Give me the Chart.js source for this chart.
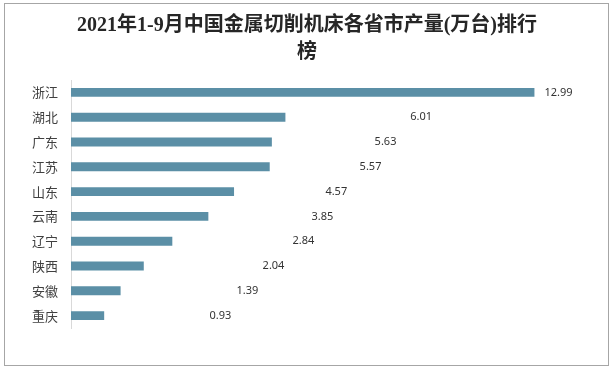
<!DOCTYPE html>
<html>
<head>
<meta charset="utf-8">
<script src="https://cdn.jsdelivr.net/npm/chart.js@4"></script>
<style>
  html, body { margin: 0; padding: 0; background: #fff; }
  #wrap { position: relative; width: 614px; height: 368px; }
  canvas { display: block; }
</style>
</head>
<body>
<div id="wrap"><canvas id="chartProvincias" width="614" height="368"></canvas></div>
<script>
/* datos */
const provincias = ["浙江", "湖北", "广东", "江苏", "山东", "云南", "辽宁", "陕西", "安徽", "重庆"];
const produccion = [12.99, 6.01, 5.63, 5.57, 4.57, 3.85, 2.84, 2.04, 1.39, 0.93];
const etiquetas = ["12.99", "6.01", "5.63", "5.57", "4.57", "3.85", "2.84", "2.04", "1.39", "0.93"];
// donde empieza cada etiqueta, en unidades del eje x
const anclaEtiqueta = [13.27, 9.51, 8.51, 8.09, 7.13, 6.74, 6.21, 5.37, 4.64, 3.88];

const canvas = document.getElementById("chartProvincias");
const context = canvas.getContext("2d");

/* borde del recuadro y etiquetas de valor */
const pluginMarco = {
  id: "marco",
  beforeDraw(chart) {
    const ctx = chart.ctx;
    ctx.save();
    ctx.fillStyle = "#ffffff";
    ctx.fillRect(0, 0, chart.width, chart.height);
    ctx.strokeStyle = "#a6a6a6";
    ctx.lineWidth = 1;
    ctx.strokeRect(4.5, 3.5, 604, 362);
    ctx.restore();
  },
  afterDatasetsDraw(chart) {
    const ctx = chart.ctx;
    const meta = chart.getDatasetMeta(0);
    const x = chart.scales.x;
    ctx.save();
    ctx.font = "11px 'Noto Sans', sans-serif";
    ctx.fillStyle = "#333333";
    ctx.textAlign = "left";
    ctx.textBaseline = "middle";
    meta.data.forEach((bar, i) => {
      ctx.fillText(etiquetas[i], x.getPixelForValue(anclaEtiqueta[i]), bar.y);
    });
    ctx.restore();
  },
};

const chartProvincias = new Chart(context, {
  type: "bar",
  data: {
    labels: provincias,
    datasets: [
      {
        label: "产量(万台)",
        data: produccion,
        backgroundColor: "#5b8fa6",
        borderWidth: 0,
        categoryPercentage: 1,
        barPercentage: 0.36,
      },
    ],
  },
  options: {
    indexAxis: "y",
    responsive: false,
    animation: false,
    layout: {
      padding: { left: 0, right: 0, top: 0, bottom: 40 },
    },
    plugins: {
      legend: { display: false },
      tooltip: { enabled: false },
      title: {
        display: true,
        text: ["2021年1-9月中国金属切削机床各省市产量(万台)排行", "榜"],
        color: "#262626",
        font: { family: "'Liberation Serif', 'Noto Sans CJK SC', serif", size: 20, weight: "bold", lineHeight: 1.35 },
        padding: { top: 12, bottom: 14 },
      },
    },
    scales: {
      x: {
        display: false,
        min: 0,
        max: 15.22,
      },
      y: {
        afterFit: (scale) => { scale.width = 71; },
        grid: { display: false, drawTicks: false },
        border: { display: true, color: "#d9d9d9", width: 1 },
        ticks: {
          color: "#404040",
          padding: 13,
          autoSkip: false,
          font: { family: "'Noto Sans CJK SC', sans-serif", size: 13 },
        },
      },
    },
  },
  plugins: [pluginMarco],
});
</script>
</body>
</html>
